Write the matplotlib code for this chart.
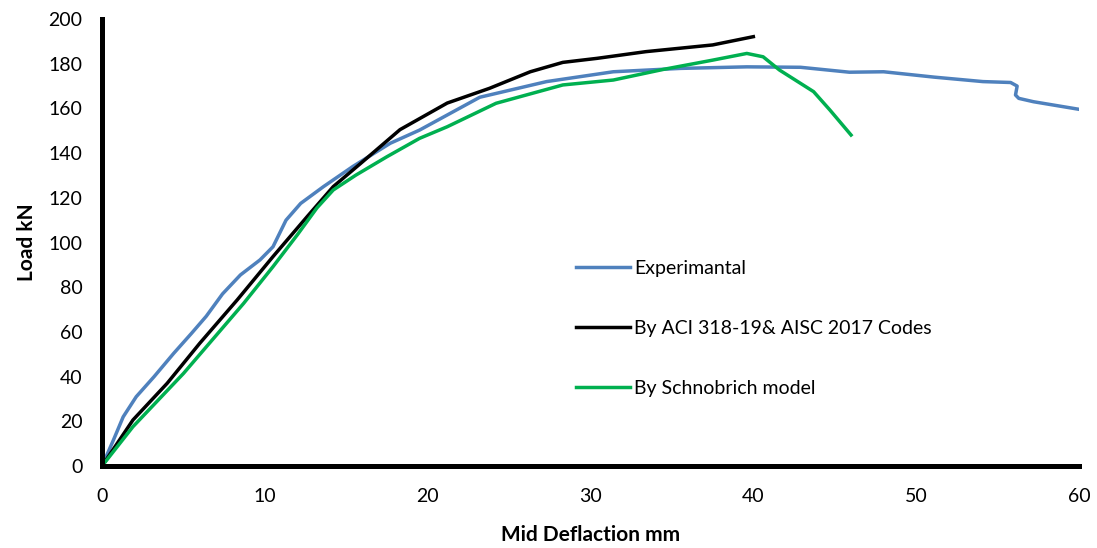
import matplotlib.pyplot as plt

# values (deflection mm, load kN)
exp_x = [0, 0.7, 1.3, 2.1, 3.2, 4.4, 5.5, 6.4, 7.4, 8.5, 9.7, 10.5, 11.3, 12.2, 13.6, 15.4,
         17.7, 19.5, 23.2, 27.3, 31.4, 35.5, 39.6, 42.9, 45.9, 48.0, 51.1, 54.1, 55.8,
         56.2, 56.1, 56.3, 57.2, 60.0]
exp_y = [0, 11.6, 22, 31, 40, 50.4, 59.4, 67, 77, 85.5, 92.2, 98.1, 110, 117.5, 125, 134,
         144.4, 150.3, 165, 172, 176.4, 177.9, 178.6, 178.4, 176.2, 176.4, 174, 172, 171.6,
         170, 166, 164.5, 163, 159.6]

aci_x = [0, 1.9, 4.0, 6.0, 8.3, 10.5, 12.6, 14.2, 15.9, 18.3, 21.2, 23.8, 26.3, 28.3,
         30.4, 33.4, 37.5, 40.0]
aci_y = [0, 20.6, 37, 54.9, 74.3, 93.7, 111.6, 125, 135.5, 150.5, 162.4, 169, 176.4,
         180.6, 182.4, 185.4, 188.4, 192.1]

sch_x = [0, 1.9, 5.0, 8.7, 10.5, 12.0, 13.2, 14.2, 15.6, 17.5, 19.5, 21.2, 24.2, 28.3,
         31.4, 34.5, 37.5, 39.6, 40.6, 41.6, 43.7, 44.7, 46.0]
sch_y = [0, 17.6, 41.4, 72.8, 89.2, 103.5, 115.5, 123.5, 130.2, 138.4, 146.6, 151.8, 162.3,
         170.5, 172.7, 177.5, 181.6, 184.6, 183.1, 177.2, 167.5, 159.3, 148.1]

labels = ['Experimantal', 'By ACI 318-19& AISC 2017 Codes', 'By Schnobrich model']

plt.rcParams['font.family'] = ['Lato', 'DejaVu Sans']

fig = plt.figure(figsize=(10.97, 5.48), dpi=100)
ax = fig.add_axes([0.093, 0.1496, 0.8906, 0.8157])

ax.plot(exp_x, exp_y, color='#4F81BD', lw=2.5, solid_joinstyle='round', label=labels[0])
ax.plot(aci_x, aci_y, color='black', lw=2.5, solid_joinstyle='round', label=labels[1])
ax.plot(sch_x, sch_y, color='#00B050', lw=2.5, solid_joinstyle='round', label=labels[2])

ax.set_xlim(0, 60)
ax.set_ylim(0, 200)
ax.set_xticks(range(0, 61, 10))
ax.set_yticks(range(0, 201, 20))
ax.tick_params(length=0, labelsize=14)
ax.tick_params(axis='x', pad=16)
ax.tick_params(axis='y', pad=14)

for side in ['top', 'right']:
    ax.spines[side].set_visible(False)
for side in ['left', 'bottom']:
    ax.spines[side].set_linewidth(3.6)
    ax.spines[side].set_color('black')
    ax.spines[side].set_zorder(5)

ax.set_xlabel('Mid Deflaction mm', fontsize=15, fontweight='bold', labelpad=14)
ax.set_ylabel('Load kN', fontsize=15, fontweight='bold', labelpad=8)

ax.legend(loc='upper left', bbox_to_anchor=(0.467, 0.50), frameon=False, fontsize=14,
          handlelength=2.8, handletextpad=0.2, labelspacing=2.2)

fig.savefig('out.png', dpi=100)
